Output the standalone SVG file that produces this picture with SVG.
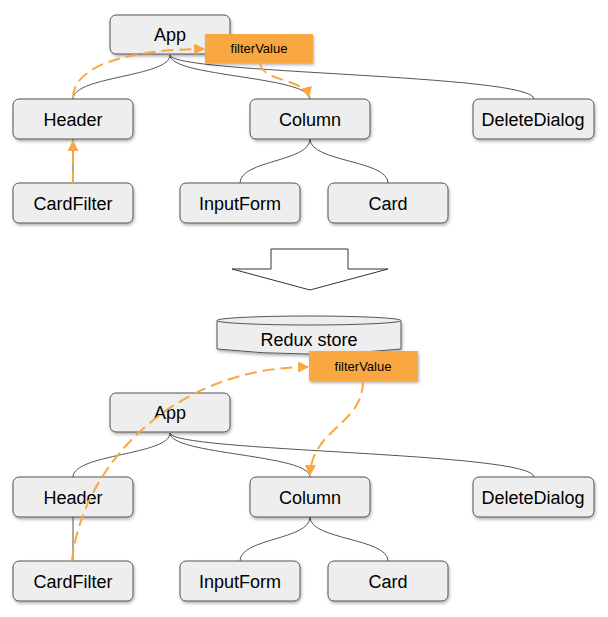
<svg xmlns="http://www.w3.org/2000/svg" width="608" height="617" viewBox="0 0 608 617">
<defs>
<filter id="sh" x="-10%" y="-20%" width="125%" height="150%">
<feDropShadow dx="1" dy="2" stdDeviation="1.5" flood-color="#000" flood-opacity="0.3"/>
</filter>
<marker id="ah" viewBox="0 0 10 10" refX="9" refY="5" markerWidth="6" markerHeight="5.5" orient="auto" markerUnits="strokeWidth">
<path d="M0,0 L10,5 L0,10 z" fill="#f9a740"/>
</marker>
<style>
.box{fill:#eeeeee;stroke:#555555;stroke-width:1;filter:url(#sh)}
.lbl{font-family:"Liberation Sans",Arial,sans-serif;font-size:18px;fill:#000;text-anchor:middle}
.tag{fill:#f9a740;filter:url(#sh)}
.tagt{font-family:"Liberation Sans",Arial,sans-serif;font-size:13px;fill:#000;text-anchor:middle}
.gc{fill:none;stroke:#555555;stroke-width:1}
.oc{fill:none;stroke:#f9a740;stroke-width:2;stroke-dasharray:12,6;marker-end:url(#ah)}
</style>
</defs>
<rect width="608" height="617" fill="#ffffff"/>

<g id="connectors">
<path class="gc" d="M170,55 C170,77 73,76 73,99"/>
<path class="gc" d="M170,55 C170,77 310,76 310,99"/>
<path class="gc" d="M170,55 C170,74 534,74 534,99"/>
<path class="gc" d="M310,139 C310,162 240,160 240,183"/>
<path class="gc" d="M310,139 C310,162 388,160 388,183"/>
<path class="gc" d="M73,139 L73,183"/>
<path class="gc" d="M170,433 C170,455 73,454 73,477"/>
<path class="gc" d="M170,433 C170,455 310,454 310,477"/>
<path class="gc" d="M170,433 C170,452 534,452 534,477"/>
<path class="gc" d="M310,517 C310,540 240,538 240,561"/>
<path class="gc" d="M310,517 C310,540 388,538 388,561"/>
<path class="gc" d="M73,517 L73,561"/>
</g>

<g id="arrow-down">
<polygon points="271,249 348,249 348,269 388,269 310,290 232,269 271,269" fill="#ffffff" stroke="#333333" stroke-width="1"/>
</g>

<g id="app1"><rect class="box" x="110" y="15" width="120" height="39" rx="6"/><text class="lbl" x="170" y="41">App</text></g>
<g id="header1"><rect class="box" x="13" y="99" width="120" height="40" rx="6"/><text class="lbl" x="73" y="126">Header</text></g>
<g id="column1"><rect class="box" x="250" y="99" width="120" height="40" rx="6"/><text class="lbl" x="310" y="126">Column</text></g>
<g id="deletedialog1"><rect class="box" x="473" y="99" width="121" height="40" rx="6"/><text class="lbl" x="533" y="126">DeleteDialog</text></g>
<g id="cardfilter1"><rect class="box" x="13" y="183" width="120" height="40" rx="6"/><text class="lbl" x="73" y="210">CardFilter</text></g>
<g id="inputform1"><rect class="box" x="180" y="183" width="120" height="40" rx="6"/><text class="lbl" x="240" y="210">InputForm</text></g>
<g id="card1"><rect class="box" x="328" y="183" width="120" height="40" rx="6"/><text class="lbl" x="388" y="210">Card</text></g>
<g id="filtervalue1"><rect class="tag" x="205" y="34" width="108" height="29"/><text class="tagt" x="259" y="53">filterValue</text></g>

<g id="reduxstore">
<path d="M217,321 L217,349 Q309,359 401,349 L401,321" fill="#eeeeee" stroke="#555555" stroke-width="1" filter="url(#sh)"/>
<ellipse cx="309" cy="320.5" rx="92" ry="4.5" fill="#eeeeee" stroke="#555555" stroke-width="1"/>
<text class="lbl" x="309" y="346">Redux store</text>
</g>
<g id="filtervalue2"><rect class="tag" x="309" y="351" width="109" height="30"/><text class="tagt" x="363" y="371">filterValue</text></g>

<g id="app2"><rect class="box" x="110" y="393" width="120" height="39" rx="6"/><text class="lbl" x="170" y="419">App</text></g>
<g id="header2"><rect class="box" x="13" y="477" width="120" height="40" rx="6"/><text class="lbl" x="73" y="504">Header</text></g>
<g id="column2"><rect class="box" x="250" y="477" width="120" height="40" rx="6"/><text class="lbl" x="310" y="504">Column</text></g>
<g id="deletedialog2"><rect class="box" x="473" y="477" width="121" height="40" rx="6"/><text class="lbl" x="533" y="504">DeleteDialog</text></g>
<g id="cardfilter2"><rect class="box" x="13" y="561" width="120" height="40" rx="6"/><text class="lbl" x="73" y="588">CardFilter</text></g>
<g id="inputform2"><rect class="box" x="180" y="561" width="120" height="40" rx="6"/><text class="lbl" x="240" y="588">InputForm</text></g>
<g id="card2"><rect class="box" x="328" y="561" width="120" height="40" rx="6"/><text class="lbl" x="388" y="588">Card</text></g>

<g id="data-flow">
<path class="oc" d="M73,98 C73,62 140,49 204,49"/>
<path class="oc" d="M260,63 C262,82 304,78 309,97"/>
<path class="oc" d="M73,183 L73,141"/>
<path class="oc" d="M72,561 C82,465 175,367 308,367"/>
<path class="oc" d="M363,381 C363,425 312,428 310,475"/>
</g>
</svg>
